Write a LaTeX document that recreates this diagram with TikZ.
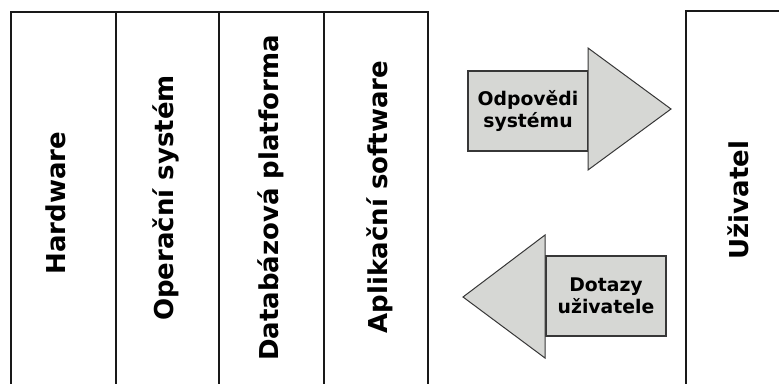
\documentclass[tikz,border=0pt]{standalone}
\usepackage{fontspec}
\setmainfont{DejaVu Sans}
\definecolor{arrowgray}{RGB}{214,215,212}
\definecolor{edgegray}{RGB}{55,55,55}
\begin{document}
\begin{tikzpicture}[x=1pt,y=-1pt,
  frame/.style={line width=2pt, draw=black!90, line cap=rect},
  layer/.style={font=\fontsize{26}{31}\selectfont\bfseries, rotate=90, anchor=base, inner sep=0pt},
  msgbox/.style={draw=edgegray, line width=1.4pt, fill=arrowgray, minimum width=120pt,
    minimum height=80pt, align=center, inner sep=0pt,
    font=\fontsize{18.8}{22}\selectfont\bfseries},
  head/.style={draw=edgegray, line width=1pt, fill=arrowgray, line join=miter}]
\useasboundingbox (0,0) rectangle (779,383);

% layered system: open-bottomed columns
\coordinate (tl) at (11,12);
\coordinate (tr) at (428,12);
\draw[frame] (tl) -- (tr);
\foreach \x/\n in {11/a,116/b,219/c,324/d,428/e}
  \draw[frame] (\x,12) coordinate (top\n) -- (\x,383) coordinate (bot\n);

\node[layer] (hw)  at (65,203)  {Hardware};
\node[layer] (os)  at (173,198) {Operační systém};
\node[layer] (db)  at (278,198) {Databázová platforma};
\node[layer] (app) at (387,197) {Aplikační software};

% user column
\coordinate (ul) at (686,11);
\coordinate (ur) at (779,11);
\coordinate (ub) at (686,383);
\draw[frame] (ur) -- (ul) -- (ub);
\node[layer] (user) at (748,200) {Uživatel};

% answers: arrow to the right
\node[msgbox] (ans) at (528,111) {Odpovědi\\systému};
\coordinate (ah1) at (588,48);
\coordinate (ah2) at (671,109);
\coordinate (ah3) at (588,170);
\draw[head] (ah1) -- (ah2) -- (ah3) -- cycle;

% queries: arrow to the left
\node[msgbox] (qry) at (606,296) {Dotazy\\uživatele};
\coordinate (qh1) at (545,235);
\coordinate (qh2) at (463,297);
\coordinate (qh3) at (545,358);
\draw[head] (qh1) -- (qh2) -- (qh3) -- cycle;
\end{tikzpicture}
\end{document}
